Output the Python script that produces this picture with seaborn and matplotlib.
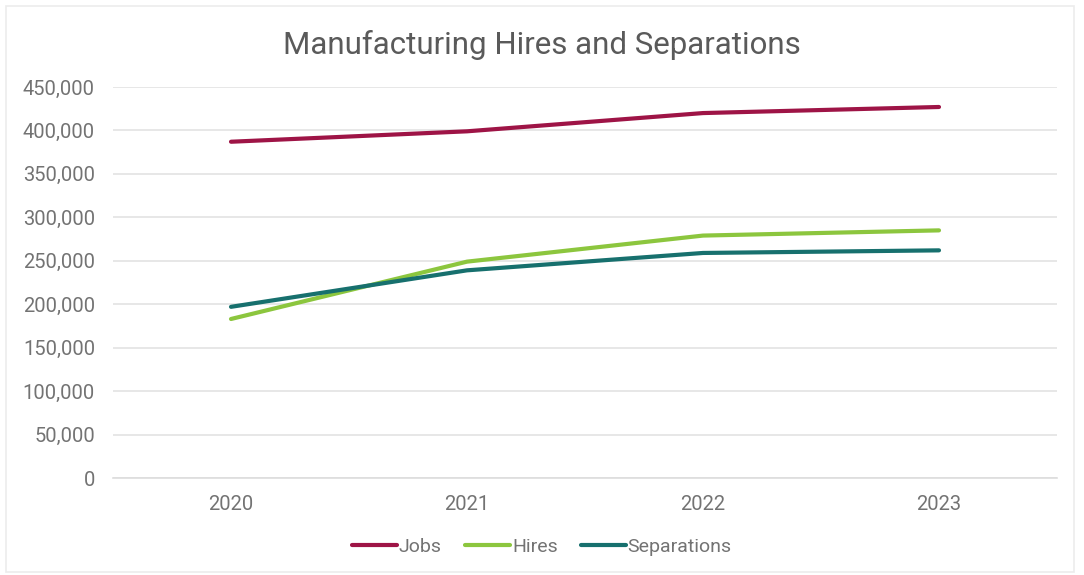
import matplotlib
matplotlib.use("Agg")
import matplotlib.pyplot as plt
from matplotlib.patches import Rectangle
from matplotlib.ticker import FuncFormatter
import seaborn as sns
import pandas as pd

years = ["2020", "2021", "2022", "2023"]
jobs = [387000, 399000, 420000, 427000]
hires = [183000, 249000, 279000, 285000]
separations = [197000, 239000, 259000, 262000]

series_names = ["Jobs", "Hires", "Separations"]
colors = {"Jobs": "#9E1446", "Hires": "#8CC63E", "Separations": "#17706E"}

df = pd.DataFrame({
    "Year": years * 3,
    "Value": jobs + hires + separations,
    "Series": ["Jobs"] * 4 + ["Hires"] * 4 + ["Separations"] * 4,
})
df["x"] = df["Year"].map({y: i for i, y in enumerate(years)})

sns.set_theme(style="white")
plt.rcParams["font.family"] = ["Roboto", "DejaVu Sans"]

fig = plt.figure(figsize=(10.84, 5.75), dpi=100)
ax = fig.add_axes([113 / 1084, 1 - 478 / 575, (1057 - 113) / 1084, (478 - 87) / 575])

sns.lineplot(data=df, x="x", y="Value", hue="Series", hue_order=series_names,
             palette=colors, linewidth=3, ax=ax, legend=True)

ax.set_xlim(-0.5, 3.5)
ax.set_ylim(0, 450000)
ax.set_yticks(range(0, 450001, 50000))
ax.yaxis.set_major_formatter(FuncFormatter(lambda v, p: f"{int(v):,}"))
ax.set_xticks(range(len(years)))
ax.set_xticklabels(years)
ax.grid(axis="y", color="#e3e3e3", linewidth=1.2)
ax.grid(axis="x", visible=False)
for s in ["top", "right", "left"]:
    ax.spines[s].set_visible(False)
ax.spines["bottom"].set_color("#dddddd")
ax.spines["bottom"].set_linewidth(1.2)
ax.tick_params(axis="both", length=0, labelsize=14.5, labelcolor="#737373")
ax.tick_params(axis="x", pad=12)
ax.tick_params(axis="y", pad=13)
ax.set_xlabel("")
ax.set_ylabel("")

fig.text(0.5, 1 - 45 / 575, "Manufacturing Hires and Separations", ha="center", va="center",
         fontsize=22.5, color="#5a5a5a")

handles, labels = ax.get_legend_handles_labels()
ax.legend(handles, labels, loc="center", bbox_to_anchor=(0.5, 1 - 547 / 575),
          bbox_transform=fig.transFigure, ncol=3, frameon=False, fontsize=14,
          labelcolor="#737373", handlelength=2.3, handletextpad=0.1, columnspacing=1.2)

fig.patches.append(Rectangle((6 / 1084, 1 - 572 / 575), 1068 / 1084, 566 / 575,
                             transform=fig.transFigure, fill=False,
                             edgecolor="#ececec", linewidth=1.2))

fig.savefig("out.png", dpi=100, facecolor="white")
